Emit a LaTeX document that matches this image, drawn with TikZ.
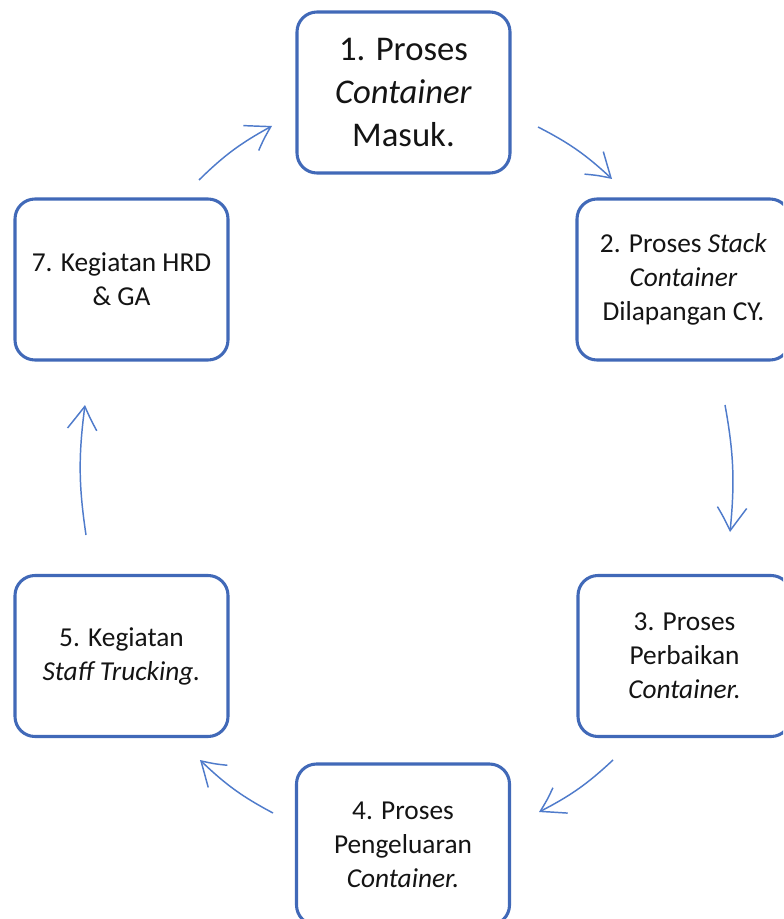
\documentclass[tikz,border=0pt]{standalone}
\usepackage{fontspec}
\setmainfont{Carlito}
\usetikzlibrary{arrows.meta,bending}
\definecolor{boxedge}{HTML}{4169B8}
\definecolor{arrowblue}{HTML}{4F7BCB}
\definecolor{txt}{HTML}{141414}
\begin{document}
\begin{tikzpicture}[x=0.75pt,y=-0.75pt,
  procbox/.style={draw=boxedge, line width=2.3pt, rounded corners=15pt,
    minimum width=159.75pt, minimum height=120.75pt, align=center,
    inner sep=0pt, text=txt, font=\fontsize{20.5}{25.5}\selectfont},
  bigbox/.style={procbox, font=\fontsize{26}{32.5}\selectfont},
  flow/.style={draw=arrowblue, line width=1.1pt, bend left=8,
    -{Straight Barb[length=18pt,width=22pt,line width=1.1pt,bend]}}]
\path[use as bounding box] (0,0) rectangle (783,919);
\clip (0,0) rectangle (783,919);
\fill[white] (0,0) rectangle (783,919);

\node[bigbox] (b1) at (403.5,92.5) {1. Proses\\ \textit{Container}\\ Masuk.};
\node[procbox] (b2) at (683.5,279.5) {2. Proses \textit{Stack}\\ \textit{Container}\\ Dilapangan CY.};
\node[procbox] (b3) at (684.5,656) {3. Proses\\ Perbaikan\\ \textit{Container.}};
\node[procbox] (b4) at (403,844.5) {4. Proses\\ Pengeluaran\\ \textit{Container.}};
\node[procbox] (b5) at (121.5,656) {5. Kegiatan\\ \textit{Staff Trucking.}};
\node[procbox] (b7) at (121.5,279.5) {7. Kegiatan HRD\\ \& GA};

\coordinate (a1s) at (538,127);  \coordinate (a1e) at (612,179);
\coordinate (a2s) at (725,405);  \coordinate (a2e) at (730,532);
\coordinate (a3s) at (613,760);  \coordinate (a3e) at (539,812);
\coordinate (a4s) at (273,813);  \coordinate (a4e) at (200,760);
\coordinate (a5s) at (86,535);   \coordinate (a5e) at (85,405);
\coordinate (a7s) at (199,180);  \coordinate (a7e) at (272,126);

\draw[flow] (a1s) to (a1e);
\draw[flow] (a2s) to (a2e);
\draw[flow] (a3s) to (a3e);
\draw[flow] (a4s) to (a4e);
\draw[flow] (a5s) to (a5e);
\draw[flow] (a7s) to (a7e);
\end{tikzpicture}
\end{document}
